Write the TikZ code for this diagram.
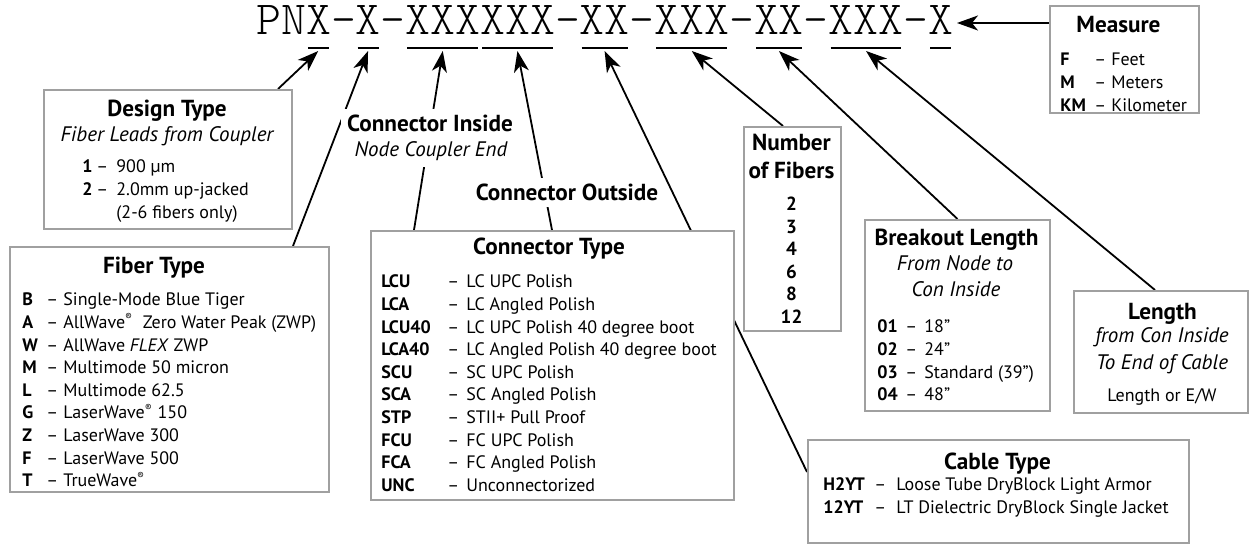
\documentclass[tikz,border=0pt]{standalone}
\usepackage{fontspec}
\setmainfont{PT Sans}
\newfontfamily\codefont{lmmonolt10-regular.otf}
\usetikzlibrary{arrows.meta,calc,backgrounds}

\definecolor{boxgray}{RGB}{160,160,160}
\newcommand{\regmark}{\textsuperscript{\fontsize{5}{5}\selectfont ®}}
\newcommand{\keylist}[3]{\begin{tabular}[t]{@{}p{#1}@{}p{#2}@{}l@{}}#3\end{tabular}}

\tikzset{
  infobox/.style={draw=boxgray, line width=1pt, fill=white, anchor=north west, inner sep=0pt},
  conn/.style={line width=0.9pt, -{Stealth[length=10.5pt,width=7.5pt,inset=3pt]}},
  boxtitle/.style={font=\fontsize{11.6}{13}\selectfont\bfseries, inner sep=0pt, anchor=base},
  boxsub/.style={font=\fontsize{10.5}{13}\selectfont\itshape, inner sep=0pt, anchor=base},
  boxlist/.style={font=\fontsize{9}{11.3}\selectfont, inner sep=0pt, anchor=base west},
}

\begin{document}
\begin{tikzpicture}[x=0.5pt, y=-0.5pt]
    \useasboundingbox (0,0) rectangle (1250,544);

    % part number with underlines
    \node[anchor=base west, inner sep=0pt, font=\codefont\fontsize{23.7}{26}\selectfont] (code) at (256,35) {PNX-X-XXXXXX-XX-XXX-XX-XXX-X};
    \foreach \s/\e in {2/2,4/4,6/8,9/11,13/14,16/18,20/21,23/25,27/27} {
        \draw[line width=1pt] ({256+24.9*\s+2},48) -- ({256+24.9*(\e+1)-2},48);
        \coordinate (u\s) at ({256+24.9*(\s+\e+1)/2},51);
    }
    \coordinate (xend) at (957,23);

    % boxes
    \node[infobox, minimum width=74.5pt, minimum height=53.5pt] (measure) at (1049,5) {};
    \node[infobox, minimum width=124pt, minimum height=69.5pt] (design) at (43,89) {};
    \node[infobox, minimum width=159.5pt, minimum height=122.5pt] (fiber) at (9,246) {};
    \node[infobox, minimum width=181.5pt, minimum height=134.5pt] (ctype) at (370,230) {};
    \node[infobox, minimum width=48.5pt, minimum height=102pt] (nfib) at (743,126) {};
    \node[infobox, minimum width=92.5pt, minimum height=95.5pt] (brk) at (864,219) {};
    \node[infobox, minimum width=87pt, minimum height=61pt] (len) at (1073,290) {};
    \node[infobox, minimum width=190.5pt, minimum height=51.5pt] (cable) at (807,439) {};

    % Measure
    \node[boxtitle] (measuret) at (1118.5,32.5) {Measure};
    \node[boxlist] (measurel) at (1060,66) {\keylist{17pt}{8.5pt}{%
        \textbf{F} & – & Feet\\ \textbf{M} & – & Meters\\ \textbf{KM} & – & Kilometer}};

    % Design Type
    \node[boxtitle] (designt) at (167,116.5) {Design Type};
    \node[boxsub] (designs) at (167,142) {Fiber Leads from Coupler};
    \node[boxlist] (designl) at (82,173) {\keylist{7pt}{10pt}{%
        \textbf{1} & – & 900 µm\\ \textbf{2} & – & 2.0mm up-jacked\\ & & (2-6 fibers only)}};

    % Fiber Type
    \node[boxtitle] (fibert) at (154,273.5) {Fiber Type};
    \node[boxlist] (fiberl) at (22,306) {\keylist{12pt}{8.5pt}{%
        \textbf{B} & – & Single-Mode Blue Tiger\\
        \textbf{A} & – & AllWave\regmark\ \ Zero Water Peak (ZWP)\\
        \textbf{W} & – & AllWave \textit{FLEX} ZWP\\
        \textbf{M} & – & Multimode 50 micron\\
        \textbf{L} & – & Multimode 62.5\\
        \textbf{G} & – & LaserWave\regmark\ 150\\
        \textbf{Z} & – & LaserWave 300\\
        \textbf{F} & – & LaserWave 500\\
        \textbf{T} & – & TrueWave\regmark}};

    % Connector Type
    \node[boxtitle] (ctypet) at (549,254.5) {Connector Type};
    \node[boxlist] (ctypel) at (381,288) {\keylist{33pt}{9.5pt}{%
        \textbf{LCU} & – & LC UPC Polish\\
        \textbf{LCA} & – & LC Angled Polish\\
        \textbf{LCU40} & – & LC UPC Polish 40 degree boot\\
        \textbf{LCA40} & – & LC Angled Polish 40 degree boot\\
        \textbf{SCU} & – & SC UPC Polish\\
        \textbf{SCA} & – & SC Angled Polish\\
        \textbf{STP} & – & STII+ Pull Proof\\
        \textbf{FCU} & – & FC UPC Polish\\
        \textbf{FCA} & – & FC Angled Polish\\
        \textbf{UNC} & – & Unconnectorized}};

    % labels over the connector lines
    \node[boxtitle, fill=white, inner sep=3pt] (cinside) at (430,131.5) {Connector Inside};
    \node[boxsub, fill=white, inner sep=3pt] (cinsides) at (431,157) {Node Coupler End};
    \node[boxtitle, fill=white, inner sep=3pt] (coutside) at (567,200.5) {Connector Outside};

    % Number of Fibers
    \node[boxtitle] (nfibt) at (791.5,150.5) {Number};
    \node[boxtitle] (nfibt2) at (791.5,178.5) {of Fibers};
    \node[boxlist, anchor=base, font=\fontsize{9.5}{11.3}\selectfont\bfseries] (nfibl) at (791.5,210.5) {%
        \begin{tabular}[t]{@{}c@{}}2\\3\\4\\6\\8\\12\end{tabular}};

    % Breakout Length
    \node[boxtitle] (brkt) at (956.5,245.5) {Breakout Length};
    \node[boxsub] (brks) at (955,271) {From Node to};
    \node[boxsub] (brks2) at (956,297) {Con Inside};
    \node[boxlist] (brkl) at (877,333) {\keylist{14pt}{9.5pt}{%
        \textbf{01} & – & 18”\\ \textbf{02} & – & 24”\\
        \textbf{03} & – & Standard (39”)\\ \textbf{04} & – & 48”}};

    % Length
    \node[boxtitle] (lent) at (1162.5,319.5) {Length};
    \node[boxsub] (lens) at (1162,343) {from Con Inside};
    \node[boxsub] (lens2) at (1162,370) {To End of Cable};
    \node[boxlist, anchor=base] (lenl) at (1162,402) {Length or E/W};

    % Cable Type
    \node[boxtitle] (cablet) at (997.5,469.5) {Cable Type};
    \node[boxlist] (cablel) at (823,491) {\keylist{25.5pt}{11pt}{%
        \textbf{H2YT} & – & Loose Tube DryBlock Light Armor\\
        \textbf{12YT} & – & LT Dielectric DryBlock Single Jacket}};

    % arrows to the part number
    \begin{pgfonlayer}{background}
        \draw[conn] ($(design.north west)+(235,0)$) -- (u2);
        \draw[conn] ($(fiber.north west)+(284,0)$) -- (u4);
        \draw[conn] ($(ctype.north west)+(44,0)$) -- (u6);
        \draw[conn] ($(ctype.north west)+(182,0)$) -- (u9);
        \draw[conn] ($(cable.north west)+(0,33)$) -- (u13);
        \draw[conn] ($(nfib.north west)+(40,0)$) -- (u16);
        \draw[conn] (brk.north) -- (u20);
        \draw[conn] ($(len.north west)+(82,0)$) -- (u23);
        \draw[conn] ($(measure.north west)+(0,18)$) -- (xend);
    \end{pgfonlayer}
\end{tikzpicture}
\end{document}
